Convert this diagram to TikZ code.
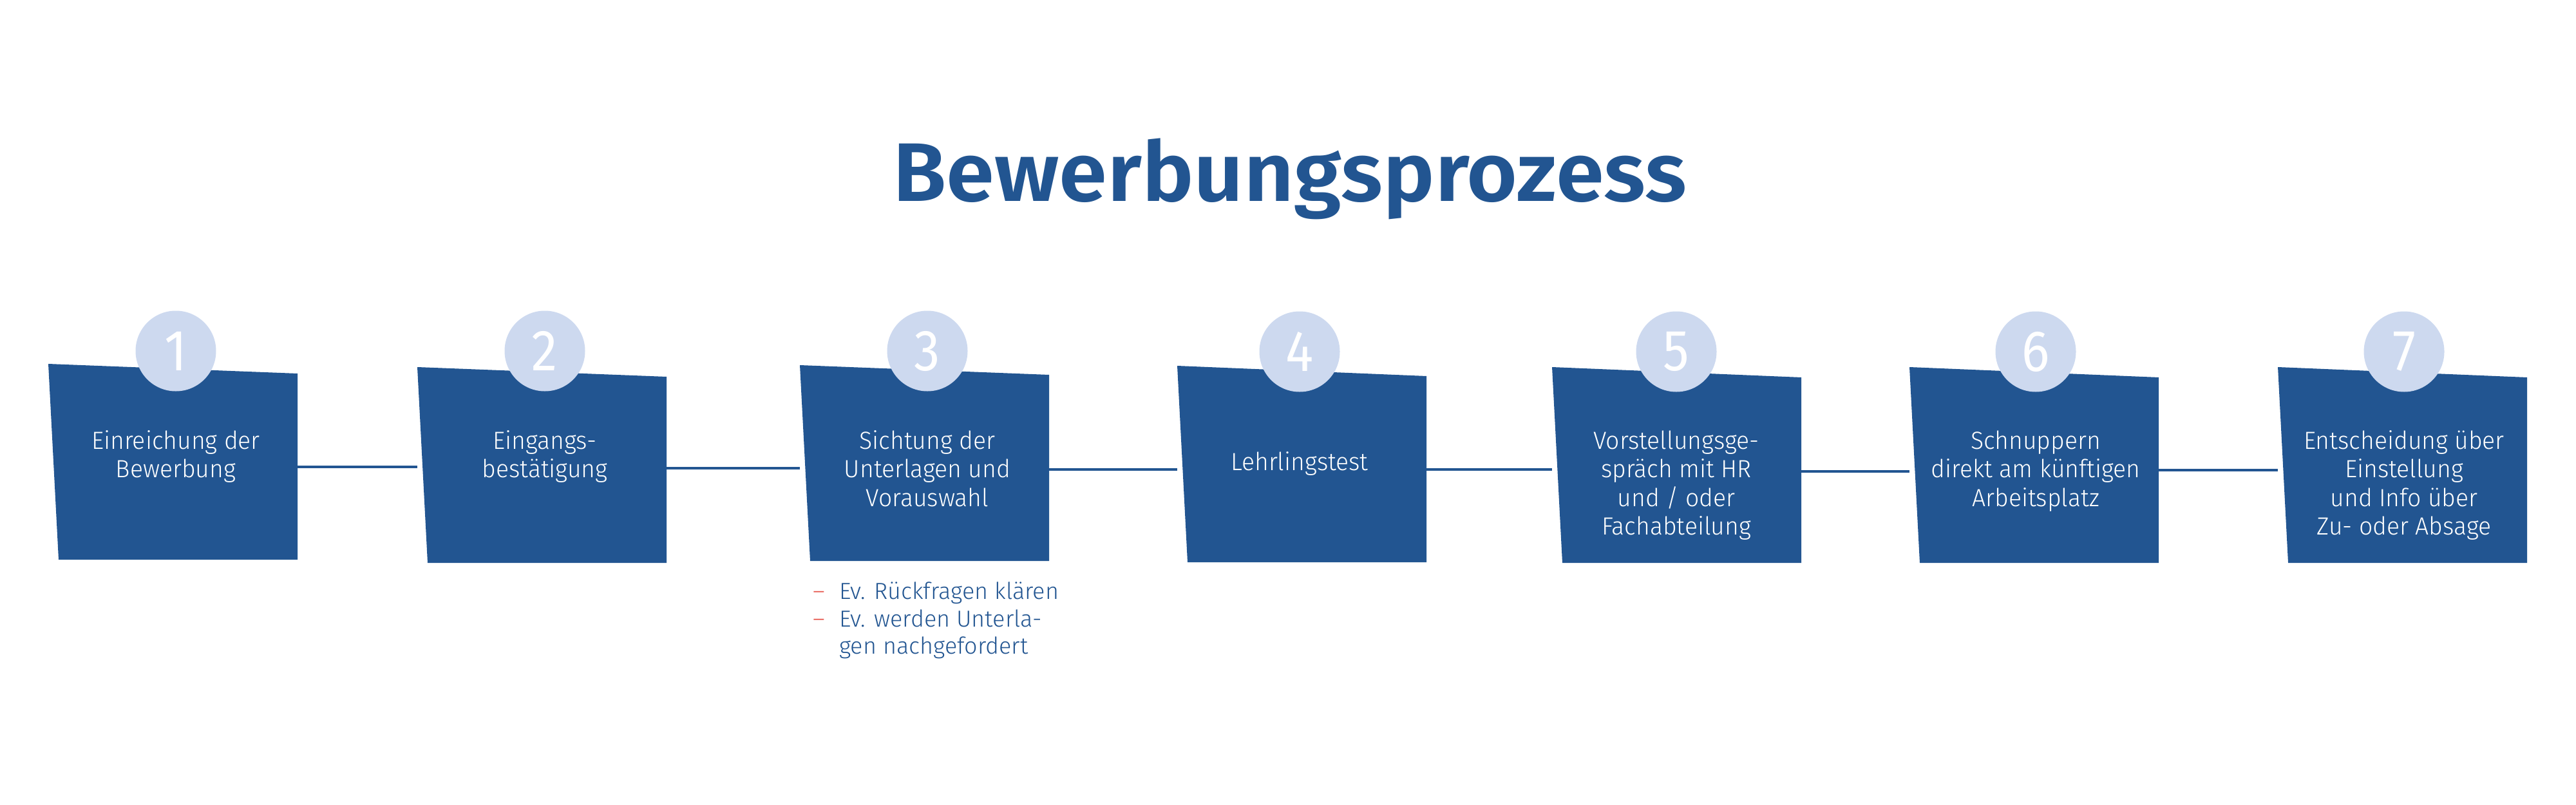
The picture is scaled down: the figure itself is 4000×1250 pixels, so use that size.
\documentclass[tikz,border=0pt]{standalone}
\usepackage{fontspec}
\setmainfont{Fira Sans}
\newfontfamily\boxfont{Fira Sans Light}[FakeStretch=0.97]
\newfontfamily\numfont{Fira Sans}[FakeStretch=0.9]
\newfontfamily\listfont{Fira Sans Light}
\newfontfamily\titlefont{Fira Sans SemiBold}[FakeStretch=1.05]
\definecolor{boxblue}{HTML}{225591}
\definecolor{circblue}{HTML}{CDD9EF}
\definecolor{dashred}{HTML}{E6574E}
\newcommand{\ml}[1]{\begin{tabular}[t]{@{}c@{}}#1\end{tabular}}
\begin{document}
\begin{tikzpicture}[x=1pt,y=-1pt,
  boxarea/.style={inner sep=0pt,outer sep=0pt,minimum width=387pt,draw=none},
  numcirc/.style={circle,fill=circblue,inner sep=0pt,minimum size=125pt,text=white,font=\numfont\fontsize{90}{92}\selectfont},
  boxtext/.style={anchor=base,inner sep=0pt,text=white,font=\boxfont\fontsize{38.5}{44.5}\selectfont},
  conn/.style={draw=boxblue,line width=4pt},
  listtext/.style={anchor=base west,inner sep=0pt,text=boxblue,font=\listfont\fontsize{36}{42.5}\selectfont}]
\useasboundingbox (0,0) rectangle (4000,1250);
% title
\node[anchor=base,inner sep=0pt,text=boxblue,font=\titlefont\fontsize{129}{135}\selectfont] (title) at (2003,312) {Bewerbungsprozess};
% box areas
\node[boxarea,minimum height=304pt] (b1) at (268.5,717) {};
\node[boxarea,minimum height=304pt] (b2) at (841.5,722) {};
\node[boxarea,minimum height=304pt] (b3) at (1435.5,719) {};
\node[boxarea,minimum height=305pt] (b4) at (2021.5,720.5) {};
\node[boxarea,minimum height=304pt] (b5) at (2603.5,722) {};
\node[boxarea,minimum height=304pt] (b6) at (3158.5,722) {};
\node[boxarea,minimum height=304pt] (b7) at (3730.5,722) {};
% connectors
\coordinate (h1) at (0,725);
\coordinate (h2) at (0,727);
\coordinate (h3) at (0,729);
\coordinate (h4) at (0,729);
\coordinate (h5) at (0,732);
\coordinate (h6) at (0,730);
\draw[conn] (b1.east |- h1) -- (b2.west |- h1);
\draw[conn] (b2.east |- h2) -- (b3.west |- h2);
\draw[conn] (b3.east |- h3) -- (b4.west |- h3);
\draw[conn] (b4.east |- h4) -- (b5.west |- h4);
\draw[conn] (b5.east |- h5) -- (b6.west |- h5);
\draw[conn] (b6.east |- h6) -- (b7.west |- h6);
% boxes
\foreach \b/\d in {b1/15,b2/15,b3/15,b4/16,b5/16,b6/16,b7/16}{
  \fill[boxblue] (\b.north west) -- ([yshift=-\d pt]\b.north east) -- (\b.south east) -- ([xshift=16pt]\b.south west) -- cycle;
}
% circles
\node[numcirc] (n1) at (273,545) {1};
\node[numcirc] (n2) at (846,545) {2};
\node[numcirc] (n3) at (1440,545) {3};
\node[numcirc] (n4) at (2018,546) {4};
\node[numcirc] (n5) at (2603,546) {5};
\node[numcirc] (n6) at (3161,546) {6};
\node[numcirc] (n7) at (3733,546) {7};
% box texts
\node[boxtext] (t1) at (273,697) {\ml{Einreichung der\\Bewerbung}};
\node[boxtext] (t2) at (846,697) {\ml{Eingangs-\\bestätigung}};
\node[boxtext] (t3) at (1440,697) {\ml{Sichtung der\\Unterlagen und\\Vorauswahl}};
\node[boxtext] (t4) at (2018,730) {Lehrlingstest};
\node[boxtext] (t5) at (2603,697) {\ml{Vorstellungsge-\\spräch mit HR\\und / oder\\Fachabteilung}};
\node[boxtext] (t6) at (3161,697) {\ml{Schnuppern\\direkt am künftigen\\Arbeitsplatz}};
\node[boxtext] (t7) at (3733,697) {\ml{Entscheidung über\\Einstellung\\und Info über\\Zu- oder Absage}};
% list
\node[listtext,text=dashred] (d1) at (1262,930) {–};
\node[listtext,text=dashred] (d2) at (1262,973) {–};
\node[listtext] (l1) at (1303,930) {Ev. Rückfragen klären};
\node[listtext] (l2) at (1303,973) {\begin{tabular}[t]{@{}l@{}}Ev. werden Unterla-\\gen nachgefordert\end{tabular}};
\end{tikzpicture}
\end{document}
